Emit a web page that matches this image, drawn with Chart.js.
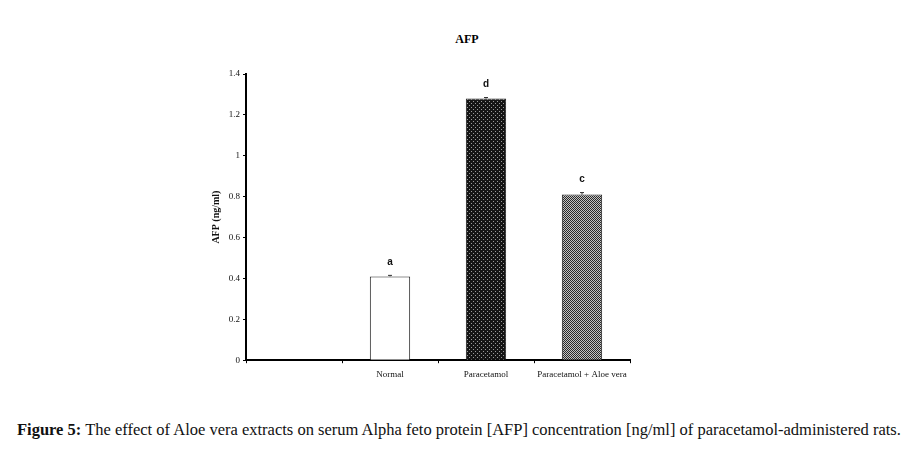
<!DOCTYPE html>
<html>
<head>
<meta charset="utf-8">
<script src="https://cdn.jsdelivr.net/npm/chart.js@4/dist/chart.umd.min.js"></script>
<style>
  html, body { margin: 0; padding: 0; background: #fff; }
  #wrap { position: relative; width: 917px; height: 456px; font-family: "Liberation Serif", serif; }
  #chart-box { position: absolute; left: 0; top: 0; width: 917px; height: 386px; }
  #title { position: absolute; left: 0; width: 934px; top: 32px; text-align: center; font-weight: bold; font-size: 12px; }
  #caption { position: absolute; left: 17px; top: 420px; font-size: 16.5px; white-space: nowrap; color: #111; }
</style>
</head>
<body>
<div id="wrap">
  <div id="title">AFP</div>
  <div id="chart-box"><canvas id="barChart"></canvas></div>
  <div id="caption"><b>Figure 5:</b> The effect of Aloe vera extracts on serum Alpha feto protein [AFP] concentration [ng/ml] of paracetamol-administered rats.</div>
</div>
<script>
const categories = ['', 'Normal', 'Paracetamol', 'Paracetamol + Aloe vera'];
const afpValues = [null, 0.41, 1.28, 0.81];
const afpErrors = [null, 0.005, 0.005, 0.01];
const sigLetters = ['', 'a', 'd', 'c'];
const yTicks = [0, 0.2, 0.4, 0.6, 0.8, 1, 1.2, 1.4];

function makePattern(kind) {
  const c = document.createElement('canvas');
  c.width = 4;
  c.height = 4;
  const g = c.getContext('2d');
  if (kind === 'dots') {
    g.fillStyle = '#151515';
    g.fillRect(0, 0, 4, 4);
    g.fillStyle = '#9a9a9a';
    g.fillRect(1, 1, 1, 1);
    g.fillRect(3, 3, 1, 1);
  } else {
    g.fillStyle = '#c4c4c4';
    g.fillRect(0, 0, 4, 4);
    g.fillStyle = '#2a2a2a';
    g.fillRect(0, 0, 1, 1);
    g.fillRect(2, 0, 1, 1);
    g.fillRect(1, 1, 1, 1);
    g.fillRect(3, 1, 1, 1);
    g.fillRect(0, 2, 1, 1);
    g.fillRect(2, 2, 1, 1);
    g.fillRect(1, 3, 1, 1);
    g.fillRect(3, 3, 1, 1);
  }
  return g.createPattern(c, 'repeat');
}

// error bars and significance letters
const extras = {
  id: 'extras',
  afterDatasetsDraw(chart) {
    const ctx = chart.ctx;
    const y = chart.scales.y;
    const meta = chart.getDatasetMeta(0);
    ctx.save();
    meta.data.forEach((bar, i) => {
      if (afpValues[i] == null) return;
      const top = y.getPixelForValue(afpValues[i] + afpErrors[i]);
      const base = y.getPixelForValue(afpValues[i]);
      ctx.strokeStyle = '#333';
      ctx.lineWidth = 1;
      ctx.beginPath();
      ctx.moveTo(bar.x, base);
      ctx.lineTo(bar.x, top);
      ctx.moveTo(bar.x - 2, top);
      ctx.lineTo(bar.x + 2, top);
      ctx.stroke();
      ctx.fillStyle = '#111';
      ctx.font = 'bold 10px "Liberation Sans", sans-serif';
      ctx.textAlign = 'center';
      ctx.textBaseline = 'bottom';
      ctx.fillText(sigLetters[i], bar.x, top - 8);
    });
    ctx.restore();
  }
};

document.addEventListener('DOMContentLoaded', () => {
  const bar = document.getElementById('barChart');
  new Chart(bar, {
    type: 'bar',
    data: {
      labels: categories,
      datasets: [{
        data: afpValues,
        backgroundColor: ['#fff', '#fff', makePattern('dots'), makePattern('check')],
        borderColor: '#222',
        borderWidth: 1,
        barPercentage: 0.42,
        categoryPercentage: 1
      }]
    },
    options: {
      responsive: true,
      maintainAspectRatio: false,
      animation: false,
      layout: { padding: { left: 206, right: 287, top: 74, bottom: 0 } },
      plugins: { legend: { display: false }, tooltip: { enabled: false }, title: { display: false } },
      scales: {
        x: {
          grid: { display: true, drawOnChartArea: false, offset: true, tickLength: 3, color: '#000', lineWidth: 1 },
          border: { color: '#000', width: 2 },
          ticks: { color: '#111', font: { family: 'Liberation Serif', size: 9 }, padding: 6, maxRotation: 0, autoSkip: false }
        },
        y: {
          min: 0,
          max: 1.4,
          afterBuildTicks: (scale) => { scale.ticks = yTicks.map((v) => ({ value: v })); },
          afterFit: (scale) => { scale.width = 40; },
          grid: { display: true, drawOnChartArea: false, tickLength: 3, color: '#000', lineWidth: 1 },
          border: { color: '#000', width: 2 },
          ticks: {
            color: '#111',
            font: { family: 'Liberation Serif', size: 9 },
            padding: 3,
            callback: (v) => String(+v.toFixed(1))
          },
          title: {
            display: true,
            text: 'AFP (ng/ml)',
            color: '#111',
            font: { family: 'Liberation Serif', size: 10, weight: 'bold' },
            padding: { top: 4, bottom: 0 }
          }
        }
      }
    },
    plugins: [extras]
  });
});
</script>
</body>
</html>
